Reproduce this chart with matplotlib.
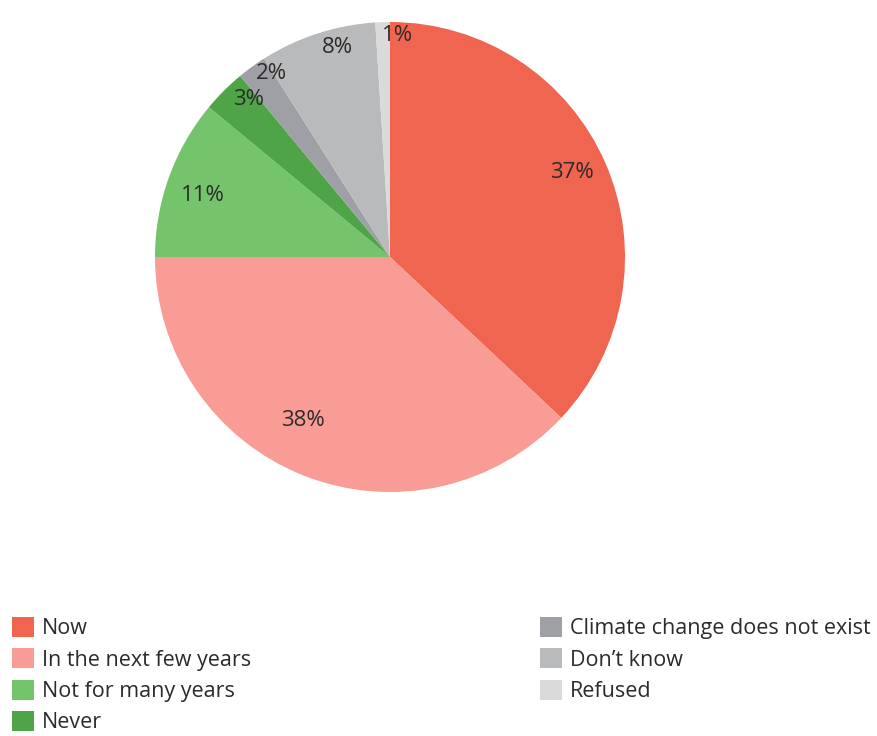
import numpy as np
import matplotlib.pyplot as plt
from matplotlib.patches import Patch

plt.rcParams['font.family'] = ['Open Sans', 'DejaVu Sans']

categories = ["Now", "In the next few years", "Not for many years", "Never",
              "Climate change does not exist", "Don\u2019t know", "Refused"]
values = [37, 38, 11, 3, 2, 8, 1]
colors = ["#F0654F", "#F99C96", "#74C46B", "#4EA447", "#9FA0A6", "#B9BABC", "#DADADA"]

# label placement: radius (fraction of R) and angular nudge (degrees)
label_r = [0.855, 0.79, 0.84, 0.90, 0.93, 0.92, 0.945]
label_dang = [1.6, -6.4, 1.5, -3.2, -3.0, -4.0, -3.8]

W, H = 878, 736
fig = plt.figure(figsize=(W / 100, H / 100), dpi=100)
cx, cy, R = 390, 257, 235
ax = fig.add_axes([(cx - R) / W, (H - cy - R) / H, 2 * R / W, 2 * R / H])
wedges, _ = ax.pie(values, colors=colors, startangle=90, counterclock=False,
                   radius=1.0, wedgeprops=dict(linewidth=0))
ax.set_xlim(-1, 1)
ax.set_ylim(-1, 1)
ax.set_aspect('equal')
ax.axis('off')

for w, v, r, da in zip(wedges, values, label_r, label_dang):
    ang = np.deg2rad((w.theta1 + w.theta2) / 2 + da)
    ax.text(r * np.cos(ang), r * np.sin(ang), f"{v}%", ha='center', va='center',
            fontsize=16, color='#2e2a2a')

handles = [Patch(facecolor=c, edgecolor='none') for c in colors]
leg_kw = dict(frameon=False, fontsize=15.5, handlelength=1.02, handleheight=1.05,
              handletextpad=0.36, labelspacing=0.42, borderpad=0, borderaxespad=0,
              labelcolor='#2b2b2b')
fig.legend(handles[:4], categories[:4], loc='upper left',
           bbox_to_anchor=(12 / W, 1 - 617 / H), **leg_kw)
fig.legend(handles[4:], categories[4:], loc='upper left',
           bbox_to_anchor=(540 / W, 1 - 617 / H), **leg_kw)

fig.savefig("out.png", dpi=100, facecolor='white')
